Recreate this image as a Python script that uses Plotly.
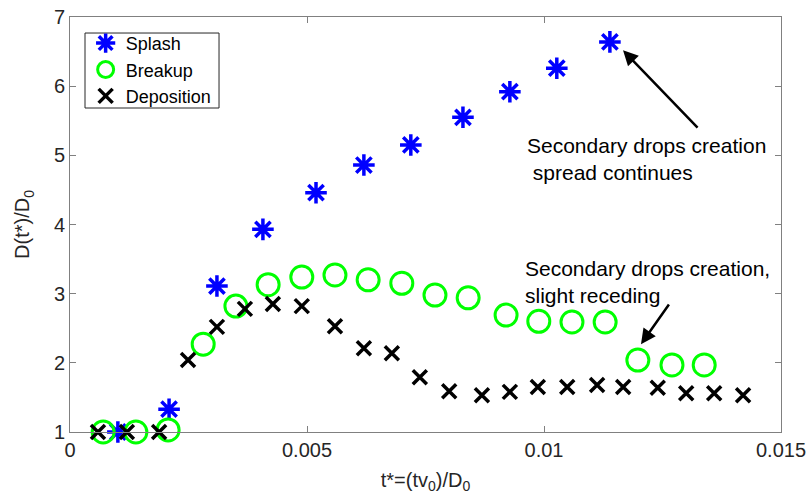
import plotly.graph_objects as go

# Data
splash_t = [0.00101, 0.00209, 0.00310, 0.00407, 0.00519, 0.00620, 0.00719, 0.00829, 0.00928, 0.01027, 0.01139]
splash_d = [1.00, 1.33, 3.11, 3.93, 4.46, 4.86, 5.15, 5.55, 5.92, 6.26, 6.64]

breakup_t = [0.00070, 0.00139, 0.00207, 0.00281, 0.00350, 0.00418, 0.00489, 0.00559, 0.00629, 0.00700,
             0.00770, 0.00840, 0.00920, 0.00989, 0.01059, 0.01129, 0.01198, 0.01270, 0.01338]
breakup_d = [1.00, 1.00, 1.03, 2.27, 2.82, 3.13, 3.24, 3.27, 3.20, 3.15,
             2.98, 2.94, 2.69, 2.60, 2.59, 2.59, 2.04, 1.97, 1.97]

depo_t = [0.00059, 0.00120, 0.00188, 0.00249, 0.00310, 0.00369, 0.00428, 0.00489, 0.00559, 0.00620,
          0.00679, 0.00738, 0.00800, 0.00869, 0.00928, 0.00987, 0.01049, 0.01112, 0.01167, 0.01240,
          0.01300, 0.01359, 0.01420]
depo_d = [1.00, 1.00, 1.00, 2.04, 2.52, 2.78, 2.85, 2.82, 2.53, 2.21,
          2.14, 1.79, 1.59, 1.53, 1.58, 1.65, 1.65, 1.68, 1.65, 1.64,
          1.56, 1.56, 1.53]

x_ticks = [0, 0.005, 0.01, 0.015]
x_tick_labels = ["0", "0.005", "0.01", "0.015"]
y_ticks = [1, 2, 3, 4, 5, 6, 7]

FONT = "Liberation Sans, Arial, sans-serif"
AX = "#808080"
TXT = "#262626"

fig = go.Figure()
fig.add_trace(go.Scatter(x=splash_t, y=splash_d, mode="markers", name="Splash", cliponaxis=False,
                         marker=dict(symbol="asterisk-open", size=18, color="#0000FF",
                                     line=dict(color="#0000FF", width=3.5))))
fig.add_trace(go.Scatter(x=breakup_t, y=breakup_d, mode="markers", name="Breakup", cliponaxis=False,
                         marker=dict(symbol="circle-open", size=22, color="#00FF00",
                                     line=dict(color="#00FF00", width=3))))
fig.add_trace(go.Scatter(x=depo_t, y=depo_d, mode="markers", name="Deposition", cliponaxis=False,
                         marker=dict(symbol="x-thin-open", size=14, color="#000000",
                                     line=dict(color="#000000", width=3.5))))

axis_common = dict(showline=True, linecolor=AX, linewidth=1, mirror="ticks",
                   ticks="inside", ticklen=6, tickcolor=AX, showgrid=False, zeroline=False,
                   automargin=False,
                   tickfont=dict(family=FONT, size=20, color=TXT))

fig.update_xaxes(range=[0, 0.015], tickvals=x_ticks, ticktext=x_tick_labels,
                 title=dict(text="t*=(tv<sub>0</sub>)/D<sub>0</sub>", font=dict(family=FONT, size=20, color=TXT),
                            standoff=12),
                 **axis_common)
fig.update_yaxes(range=[1, 7], tickvals=y_ticks,
                 title=dict(text="D(t*)/D<sub>0</sub>", font=dict(family=FONT, size=20, color=TXT),
                            standoff=18),
                 **axis_common)

# Annotations
fig.add_annotation(x=0.011667, y=6.52, ax=0.01327, ay=5.38, xref="x", yref="y",
                   axref="x", ayref="y", text="", showarrow=True, arrowhead=2,
                   arrowsize=1.2, arrowwidth=2.5, arrowcolor="#000000")
fig.add_annotation(x=0.0096, y=4.947, xref="x", yref="y", xanchor="left", yanchor="middle",
                   align="left", showarrow=False,
                   text="Secondary drops creation<br> spread continues",
                   font=dict(family=FONT, size=21, color="#000000"))
fig.add_annotation(x=0.012046, y=2.27, ax=0.012658, ay=2.865, xref="x", yref="y",
                   axref="x", ayref="y", text="", showarrow=True, arrowhead=2,
                   arrowsize=1.2, arrowwidth=2.5, arrowcolor="#000000")
fig.add_annotation(x=0.009557, y=3.169, xref="x", yref="y", xanchor="left", yanchor="middle",
                   align="left", showarrow=False,
                   text="Secondary drops creation,<br>slight receding",
                   font=dict(family=FONT, size=21, color="#000000"))

# Legend frame
fig.add_shape(type="rect", xref="paper", yref="paper",
              x0=0.0211, x1=0.2096, y0=0.7807, y1=0.9614,
              line=dict(color="#262626", width=1), fillcolor="white", layer="below")

fig.update_layout(
    width=807, height=502,
    margin=dict(l=70, r=26, t=17, b=70, autoexpand=False),
    plot_bgcolor="white", paper_bgcolor="white",
    font=dict(family=FONT, size=18, color="#000000"),
    hovermode=False,
    legend=dict(x=0.022, y=0.981, xanchor="left", yanchor="top",
                borderwidth=0, bgcolor="rgba(0,0,0,0)",
                font=dict(family=FONT, size=18, color="#000000"),
                tracegroupgap=0, itemwidth=30),
    showlegend=True,
)

fig.write_html("out.html", config={"displayModeBar": False},
               post_script="document.body.style.margin='0';document.body.style.padding='0';")
